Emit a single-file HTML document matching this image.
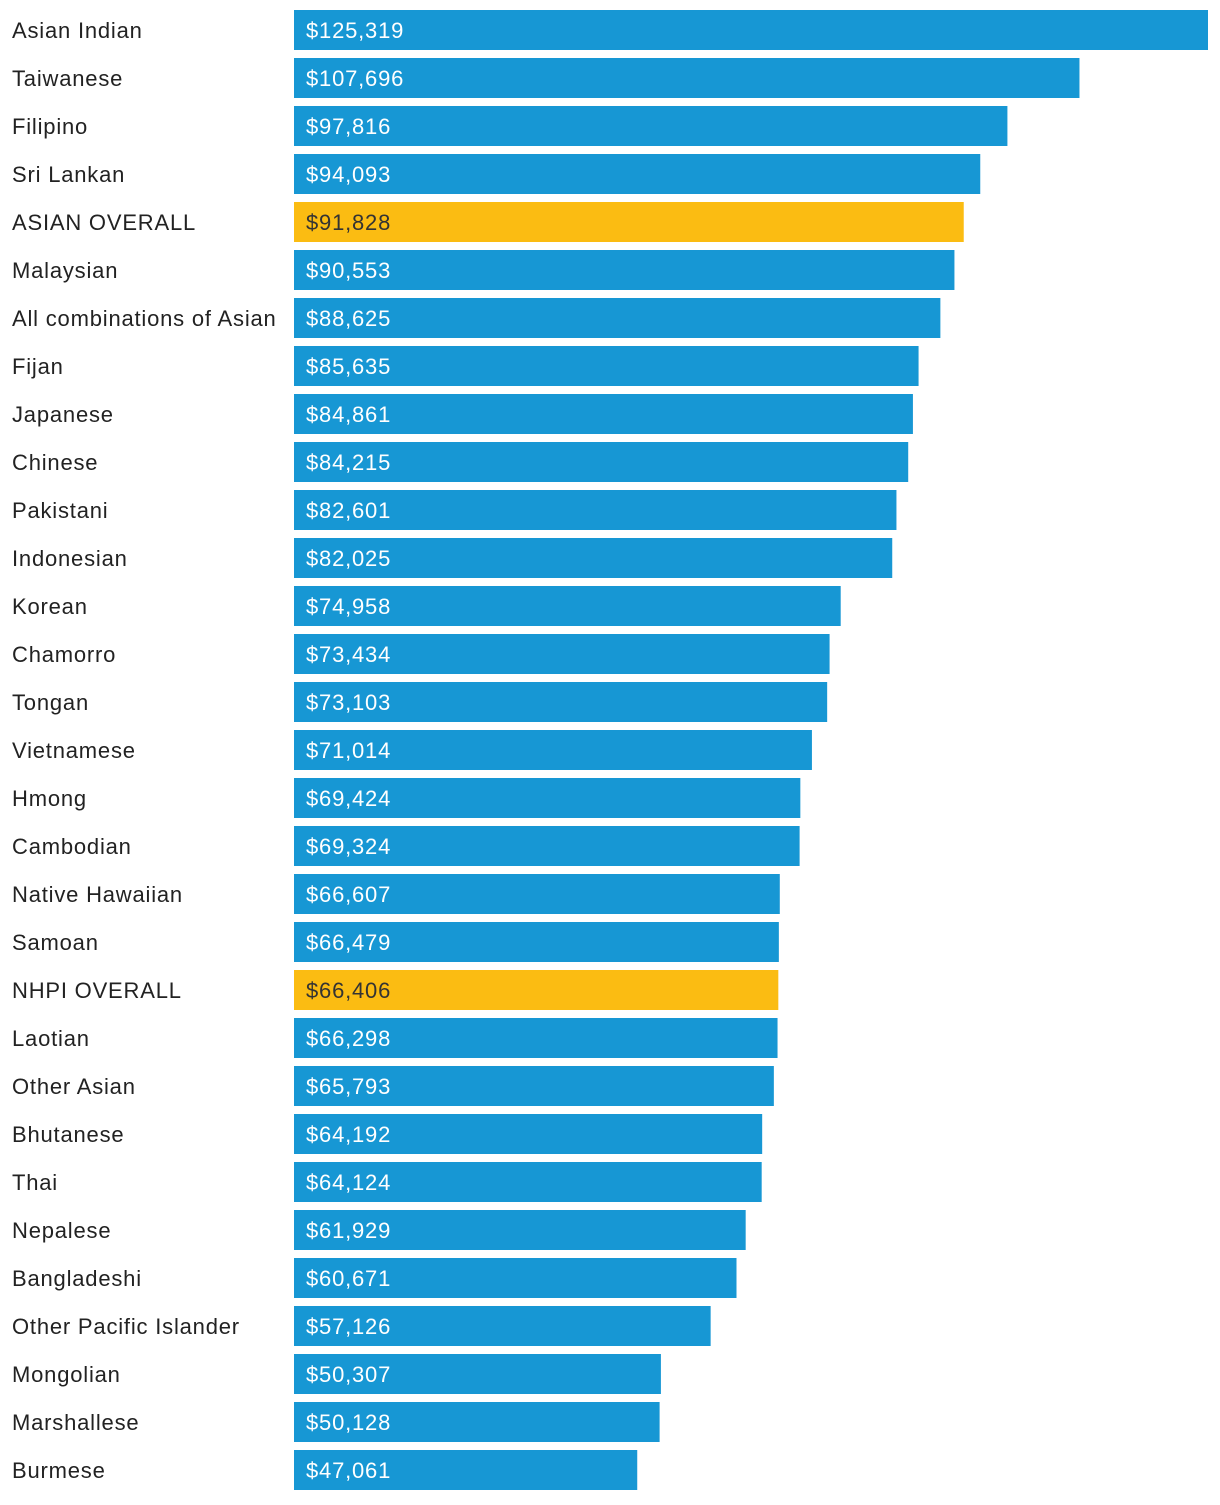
<!DOCTYPE html>
<html><head><meta charset="utf-8">
<style>
html,body{margin:0;padding:0;background:#fff;}
body{width:1220px;height:1500px;overflow:hidden;font-family:"Liberation Sans",sans-serif;}
svg text{font-family:"Liberation Sans",sans-serif;font-size:22px;letter-spacing:0.8px;}
</style></head>
<body>
<svg id="chart" width="1220" height="1500" viewBox="0 0 1220 1500"></svg>
<script>
const categories = ["Asian Indian","Taiwanese","Filipino","Sri Lankan","ASIAN OVERALL","Malaysian","All combinations of Asian","Fijan","Japanese","Chinese","Pakistani","Indonesian","Korean","Chamorro","Tongan","Vietnamese","Hmong","Cambodian","Native Hawaiian","Samoan","NHPI OVERALL","Laotian","Other Asian","Bhutanese","Thai","Nepalese","Bangladeshi","Other Pacific Islander","Mongolian","Marshallese","Burmese"];
const values = [125319,107696,97816,94093,91828,90553,88625,85635,84861,84215,82601,82025,74958,73434,73103,71014,69424,69324,66607,66479,66406,66298,65793,64192,64124,61929,60671,57126,50307,50128,47061];
const highlighted = ["ASIAN OVERALL","NHPI OVERALL"];

const svg = document.getElementById('chart');
const NS = 'http://www.w3.org/2000/svg';
const x0 = 294, x1 = 1208, top0 = 10, step = 48, barH = 40;
const maxV = Math.max(...values);
const xScale = v => (v / maxV) * (x1 - x0);
const yScale = i => top0 + i * step;

categories.forEach((c, i) => {
  const y = yScale(i);
  const hi = highlighted.includes(c);
  const lab = document.createElementNS(NS, 'text');
  
  
  lab.setAttribute('x', 12);
  lab.setAttribute('y', y + barH / 2 + 8);
  lab.setAttribute('fill', '#222');
  lab.textContent = c;
  svg.appendChild(lab);

  const r = document.createElementNS(NS, 'rect');
  
  
  r.setAttribute('x', x0);
  r.setAttribute('y', y);
  r.setAttribute('width', xScale(values[i]));
  r.setAttribute('height', barH);
  r.setAttribute('fill', hi ? '#fbbc12' : '#1797d4');
  svg.appendChild(r);

  const t = document.createElementNS(NS, 'text');
  
  
  t.setAttribute('x', x0 + 12);
  t.setAttribute('y', y + barH / 2 + 8);
  t.setAttribute('fill', hi ? '#333' : '#fff');
  t.textContent = '$' + values[i].toLocaleString('en-US');
  svg.appendChild(t);
});
</script>
</body></html>
